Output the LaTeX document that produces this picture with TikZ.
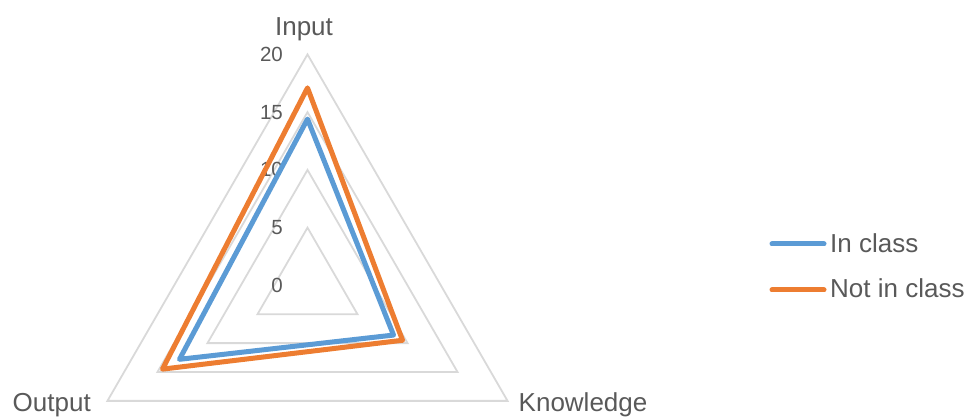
\documentclass[tikz,border=0pt]{standalone}
\usepackage{fontspec}
\setmainfont{Liberation Sans}
\definecolor{gridc}{HTML}{D9D9D9}
\definecolor{txtc}{HTML}{595959}
\definecolor{serA}{HTML}{5B9BD5}
\definecolor{serB}{HTML}{ED7D31}
\begin{document}
\begin{tikzpicture}[x=1pt,y=1pt,
  ring/.style={draw=gridc,line width=1.8pt,line join=miter},
  series/.style={line width=5pt,line join=round,line cap=round},
  axlabel/.style={text=txtc,font=\fontsize{26}{30}\selectfont,inner sep=0pt},
  ticklabel/.style={text=txtc,font=\fontsize{20.5}{24}\selectfont,inner sep=0pt,anchor=east},
  leglabel/.style={text=txtc,font=\fontsize{26}{30}\selectfont,inner sep=0pt,anchor=base west}]
\useasboundingbox (0,0) rectangle (969,417);
\coordinate (C) at (307.5,131.6);
% rings
\foreach \v in {5,10,15,20}{
  \draw[ring] ([shift={(90:{11.55*\v})}]C) -- ([shift={(-30:{11.55*\v})}]C) -- ([shift={(210:{11.55*\v})}]C) -- cycle;
}
% tick labels
\foreach \v in {0,5,10,15,20}{
  \node[ticklabel] (t\v) at ([shift={(-24.5,{11.55*\v})}]C) {\v};
}
% axis labels
\node[axlabel,anchor=base] (lin) at (304,381) {Input};
\node[axlabel,anchor=base east] (lout) at (91,5.3) {Output};
\node[axlabel,anchor=base west] (lkn) at (518.5,5.3) {Knowledge};
% data points
\coordinate (a1) at ([shift={(90:{11.55*14.4})}]C);
\coordinate (a2) at ([shift={(-30:{11.55*8.6})}]C);
\coordinate (a3) at ([shift={(210:{11.55*12.8})}]C);
\coordinate (b1) at ([shift={(90:{11.55*17.1})}]C);
\coordinate (b2) at ([shift={(-30:{11.55*9.5})}]C);
\coordinate (b3) at ([shift={(210:{11.55*14.5})}]C);
\draw[series,serA] (a1) -- (a2) -- (a3) -- cycle;
\draw[series,serB] (b1) -- (b2) -- (b3) -- cycle;
% legend
\coordinate (la1) at (772,173);
\coordinate (la2) at (824,173);
\coordinate (lb1) at (772,127);
\coordinate (lb2) at (824,127);
\draw[series,serA] (la1) -- (la2);
\draw[series,serB] (lb1) -- (lb2);
\node[leglabel] (lega) at (830,164) {In class};
\node[leglabel] (legb) at (830,119) {Not in class};
\end{tikzpicture}
\end{document}
